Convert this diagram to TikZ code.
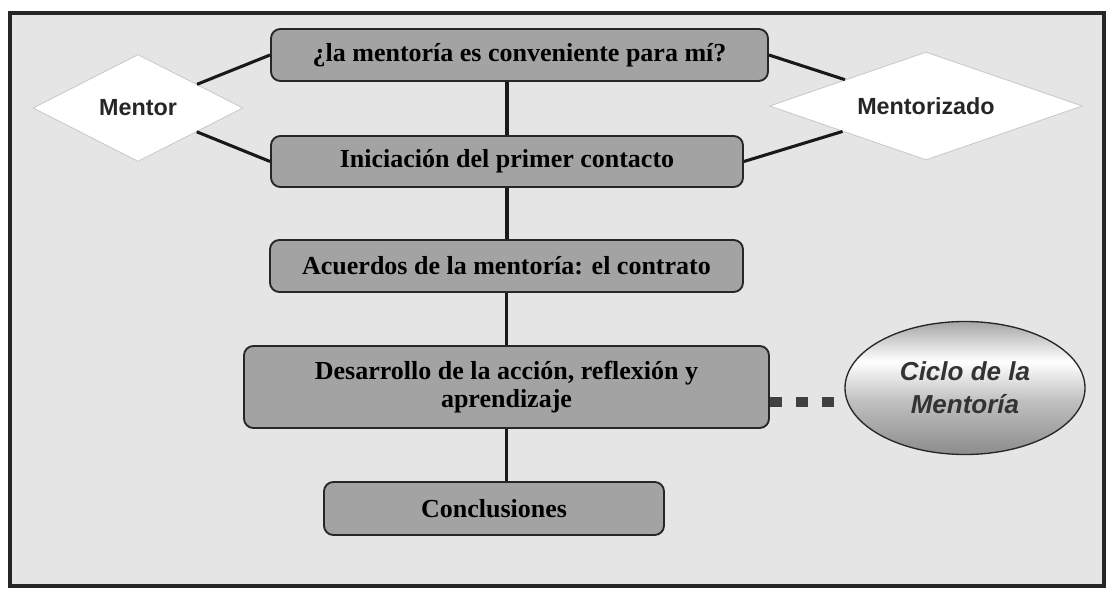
\documentclass[tikz,border=0pt]{standalone}
\usepackage{fontspec}
\setmainfont{Liberation Serif}
\setsansfont{Liberation Sans}
\usepackage{tikz}
\usetikzlibrary{shapes.geometric}
\pgfdeclareverticalshading{ciclofill}{100bp}{color(0bp)=(black!45); color(25bp)=(black!45); color(45bp)=(black!25); color(60bp)=(white); color(75bp)=(black!35); color(100bp)=(black!35)}
\tikzset{
	stagebox/.style={draw=black!85, line width=1.4pt, rounded corners=7pt, fill=black!36, inner sep=0pt, align=center, font=\fontsize{19.5}{21}\selectfont\bfseries},
	rombo/.style={diamond, aspect=2.9, fill=white, draw=black!22, line width=0.6pt, inner sep=0pt, text=black!85, font=\sffamily\bfseries\fontsize{17.5}{19}\selectfont},
	ciclonode/.style={ellipse, shading=ciclofill, draw=black!85, line width=1pt, inner sep=0pt, align=center, text=black!80, font=\sffamily\bfseries\itshape\fontsize{19.5}{24.75}\selectfont},
	link/.style={draw=black!90, line width=2.3pt},
	dotlink/.style={draw=black!75, line width=8pt, dash pattern=on 9pt off 10.5pt}}

\begin{document}
\begin{tikzpicture}[x=0.75pt, y=-0.75pt]
	\useasboundingbox (0,0) rectangle (1110,602);
	\draw[line width=2.6pt, draw=black!85, fill=black!10] (10,13) rectangle (1104,586);
	\node[stagebox, minimum width=372.75pt, minimum height=39pt] (quest) at (519.5,55) {¿la mentoría es conveniente para mí?};
	\node[stagebox, minimum width=354pt, minimum height=38.25pt] (inicio) at (507,161.5) {Iniciación del primer contacto};
	\node[stagebox, minimum width=354.75pt, minimum height=39pt] (acuerdo) at (506.5,266) {Acuerdos de la mentoría: el contrato};
	\node[stagebox, minimum width=393.75pt, minimum height=61.5pt] (desarrollo) at (506.5,387) {Desarrollo de la acción, reflexión y\\aprendizaje};
	\node[stagebox, minimum width=255pt, minimum height=39.75pt] (conclus) at (494,508.5) {Conclusiones};
	\node[rombo, aspect=2, minimum width=157.5pt, minimum height=80.25pt] (mentor) at (138,108) {Mentor};
	\node[rombo, minimum width=234.75pt, minimum height=81pt] (mentorizado) at (926,106) {Mentorizado};
	\node[ciclonode, minimum width=180pt, minimum height=99.75pt] (ciclo) at (965,388) {Ciclo de la\\Mentoría};
	\draw[link] (mentor) -- (quest.west);
	\draw[link] (mentor) -- (inicio.west);
	\draw[link] (mentorizado) -- (quest.east);
	\draw[link] (mentorizado) -- (inicio.east);
	\draw[link] (inicio.north) -- (inicio.north |- quest.south);
	\draw[link] (inicio.south) -- (inicio.south |- acuerdo.north);
	\draw[link] (acuerdo.south) -- (desarrollo.north);
	\draw[link] (desarrollo.south) -- (desarrollo.south |- conclus.north);
	\draw[dotlink] ([yshift=-11.25pt]desarrollo.east) -- ([yshift=-11.25pt]desarrollo.east -| ciclo.west);
\end{tikzpicture}
\end{document}
